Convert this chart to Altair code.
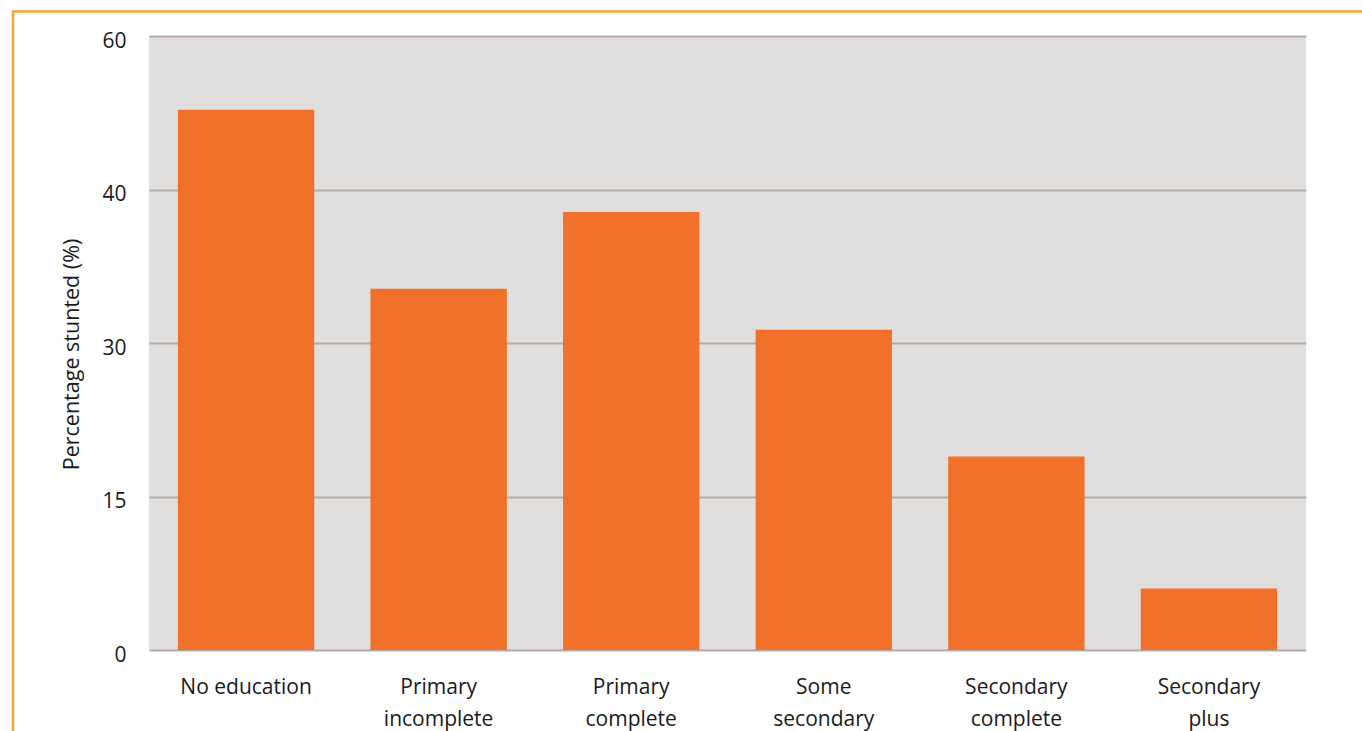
import altair as alt
import pandas as pd

categories = ["No education", "Primary\nincomplete", "Primary\ncomplete",
              "Some\nsecondary", "Secondary\ncomplete", "Secondary\nplus"]
values = [52.8, 35.3, 42.8, 31.3, 18.9, 6.0]
tick_values = [0, 15, 30, 45, 60]

df = pd.DataFrame({"category": categories, "value": values})

PLOT_LEFT, PLOT_TOP = 149, 36
W, H = 1157, 614
FONT = "Open Sans"

bars = alt.Chart(df).mark_bar(color="#f2712a").encode(
    x=alt.X("category:N", sort=categories,
            scale=alt.Scale(paddingInner=0.292, paddingOuter=0.15),
            axis=alt.Axis(title=None, labelAngle=0, ticks=False, domain=False,
                          labelExpr="split(datum.label, '\\n')",
                          labelLineHeight=32, labelPadding=26,
                          labelBaseline="top",
                          labelFont=FONT, labelFontSize=21, labelColor="#1a1a1a")),
    y=alt.Y("value:Q", scale=alt.Scale(domain=[0, 60], nice=False),
            axis=alt.Axis(title="Percentage stunted (%)", values=tick_values,
                          labelExpr="datum.value == 45 ? '40' : datum.label",
                          ticks=False, domain=False, labelPadding=23,
                          labelOffset=5,
                          grid=True, gridColor="#b3aba8", gridWidth=2,
                          labelFont=FONT, labelFontSize=21, labelColor="#1a1a1a",
                          titleFont=FONT, titleFontSize=21.5, titleFontWeight="normal",
                          titleColor="#1a1a1a", titleX=-71, titleY=318,
                          titleBaseline="alphabetic", titleAlign="center",
                          titleAngle=270)),
)

frame = alt.Chart(pd.DataFrame({"a": [0]})).mark_rect(
    fill=None, stroke="#f9a234", strokeWidth=2.5, clip=False
).encode(
    x=alt.value(13 - PLOT_LEFT), x2=alt.value(1362 - PLOT_LEFT + 20),
    y=alt.value(11.5 - PLOT_TOP), y2=alt.value(731 - PLOT_TOP + 20),
)

chart = alt.layer(bars, frame).properties(
    width=W, height=H,
    padding={"left": PLOT_LEFT, "top": PLOT_TOP, "right": 1362 - PLOT_LEFT - W,
             "bottom": 731 - PLOT_TOP - H},
    autosize=alt.AutoSizeParams(type="none"),
    background="white",
).configure_view(fill="#e0dfdd", stroke=None)

chart.save("out.html", embed_options={"renderer": "svg", "actions": False})
